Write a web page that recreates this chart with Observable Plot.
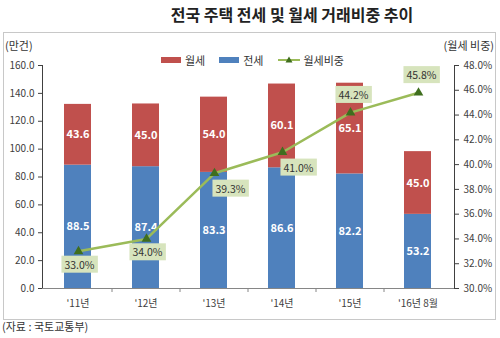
<!DOCTYPE html>
<html>
<head>
<meta charset="utf-8">
<script src="https://cdn.jsdelivr.net/npm/d3@7"></script>
<script src="https://cdn.jsdelivr.net/npm/@observablehq/plot@0.6"></script>
<style>
  body { margin: 0; background: #fff; }
  #wrap { position: relative; width: 500px; height: 338px; font-family: "Noto Sans CJK KR", "Noto Sans", sans-serif; color: #404040; overflow: hidden; }
  .abs { position: absolute; white-space: nowrap; }
  #title { top: 2px; left: 292px; transform: translateX(-50%); font-size: 16px; font-weight: bold; color: #222; }
  #frame { left: 3px; top: 32px; width: 493px; height: 288px; border: 1px solid #c8c8c8; box-sizing: border-box; }
  .unit { top: 37px; font-size: 11px; color: #333; }
  #legend { top: 52px; left: 161px; font-size: 11px; display: flex; align-items: center; color: #333; }
  .sw { display: inline-block; width: 20px; height: 6px; margin-right: 4px; }
  .item { display: flex; align-items: center; margin-right: 14px; }
  #caption { top: 318px; left: 2px; font-size: 11px; color: #333; }
  svg.layer { position: absolute; left: 0; top: 0; }
</style>
</head>
<body>
<div id="wrap">
  <div id="title" class="abs">전국 주택 전세 및 월세 거래비중 추이</div>
  <div id="frame" class="abs"></div>
  <div class="abs unit" style="left:5px">(만건)</div>
  <div class="abs unit" style="right:6px">(월세 비중)</div>
  <div id="legend" class="abs"></div>
  <div id="caption" class="abs">(자료 : 국토교통부)</div>
</div>
<script>
// ---- data ----
const years = ["'11년", "'12년", "'13년", "'14년", "'15년", "'16년 8월"];
const jeonse = [88.5, 87.4, 83.3, 86.6, 82.2, 53.2];
const wolse = [43.6, 45.0, 54.0, 60.1, 65.1, 45.0];
const wolseRatio = [33.0, 34.0, 39.3, 41.0, 44.2, 45.8];
const leftTicks = [0, 20, 40, 60, 80, 100, 120, 140, 160];
const rightTicks = [30, 32, 34, 36, 38, 40, 42, 44, 46, 48];
const seriesNames = ["전세", "월세", "월세비중"];

// ---- styles / layout ----
const colors = { jeonse: "#4F81BD", wolse: "#C0504D", line: "#9BBB59", marker: "#3F6E1E", labelBg: "#D7E4BD" };
const labelPlacement = ["below", "below", "right", "right", "above", "above"];
const W = 500, H = 338;
const margins = { marginLeft: 42, marginRight: 46, marginTop: 65, marginBottom: 50 };
const xOpts = { domain: years, paddingInner: 0.6, paddingOuter: 0.3 };
const axisColor = "#868686";

const barRows = [
  ...years.map((y, i) => ({ year: y, type: seriesNames[0], value: jeonse[i] })),
  ...years.map((y, i) => ({ year: y, type: seriesNames[1], value: wolse[i] }))
];
const ratioRows = years.map((y, i) => ({ year: y, ratio: wolseRatio[i], place: labelPlacement[i] }));

const wrap = document.getElementById("wrap");

// legend
const legend = document.getElementById("legend");
legend.innerHTML =
  `<span class="item"><span class="sw" style="background:${colors.wolse}"></span>${seriesNames[1]}</span>` +
  `<span class="item"><span class="sw" style="background:${colors.jeonse}"></span>${seriesNames[0]}</span>` +
  `<span class="item"><svg width="22" height="8" style="margin-right:4px"><line x1="0" y1="4" x2="22" y2="4" stroke="${colors.line}" stroke-width="2"/><path d="M11,0.5 L14.5,6.5 L7.5,6.5 Z" fill="${colors.marker}"/></svg>${seriesNames[2]}</span>`;

// ---- layer 1: bars + left axis ----
const p1 = Plot.plot({
  width: W, height: H, ...margins,
  style: { background: "transparent", fontFamily: "'Noto Sans CJK KR', 'Noto Sans', sans-serif", fontSize: "10px", color: "#404040" },
  x: { ...xOpts, label: null, tickSize: 0, tickPadding: 11 },
  y: { domain: [0, 160], ticks: leftTicks, tickFormat: d => d.toFixed(1), label: null, tickSize: 4, tickPadding: 4, line: true },
  color: { domain: [seriesNames[0], seriesNames[1]], range: [colors.jeonse, colors.wolse] },
  marks: [
    Plot.barY(barRows, { x: "year", y: "value", fill: "type" }),
    Plot.text(barRows, Plot.stackY({ x: "year", y: "value", z: "type", text: d => d.value.toFixed(1), fill: "white", fontWeight: "bold", fontSize: 11 })),
    Plot.ruleY([0], { stroke: axisColor }),
    Plot.ruleX(years.slice(0, -1), { x: d => d, y1: 0, y2: 0, insetBottom: -4, dx: 34, stroke: axisColor })
  ]
});
p1.classList.add("layer");
wrap.appendChild(p1);

// ---- layer 2: ratio line + right axis ----
const p2 = Plot.plot({
  width: W, height: H, ...margins,
  style: { background: "transparent", fontFamily: "'Noto Sans CJK KR', 'Noto Sans', sans-serif", fontSize: "10px", color: "#404040" },
  x: { ...xOpts, axis: null },
  y: { domain: [30, 48], axis: "right", ticks: rightTicks, tickFormat: d => d.toFixed(1) + "%", label: null, tickSize: 4, tickPadding: 5, line: true },
  marks: [
    Plot.line(ratioRows, { x: "year", y: "ratio", stroke: colors.line, strokeWidth: 2.5 }),
    Plot.dot(ratioRows, { x: "year", y: "ratio", symbol: "triangle", r: 3.6, fill: colors.marker }),
    Plot.text(ratioRows.filter(d => d.place === "below"), { x: "year", y: "ratio", text: d => d.ratio.toFixed(1) + "%", dy: 14, dx: 1, fill: "#333", fontSize: 10.5 }),
    Plot.text(ratioRows.filter(d => d.place === "right"), { x: "year", y: "ratio", text: d => d.ratio.toFixed(1) + "%", dy: 16, dx: 16, fill: "#333", fontSize: 10.5 }),
    Plot.text(ratioRows.filter(d => d.place === "above"), { x: "year", y: "ratio", text: d => d.ratio.toFixed(1) + "%", dy: -17, dx: 3, fill: "#333", fontSize: 10.5 })
  ]
});
p2.classList.add("layer");
wrap.appendChild(p2);

// label background boxes for ratio labels
p2.querySelectorAll('g[aria-label="text"] text').forEach(t => {
  const b = t.getBBox();
  const r = document.createElementNS("http://www.w3.org/2000/svg", "rect");
  r.setAttribute("x", b.x - 3);
  r.setAttribute("y", b.y - 1);
  r.setAttribute("width", b.width + 6);
  r.setAttribute("height", b.height + 2);
  r.setAttribute("fill", colors.labelBg);
  if (t.getAttribute("transform")) r.setAttribute("transform", t.getAttribute("transform"));
  t.parentNode.insertBefore(r, t);
});

// axis line colors
[p1, p2].forEach(svg => {
  svg.querySelectorAll('g[aria-label$="axis"] path, g[aria-label$="axis"] line').forEach(el => {
    el.setAttribute("stroke", axisColor);
  });
});
</script>
</body>
</html>
